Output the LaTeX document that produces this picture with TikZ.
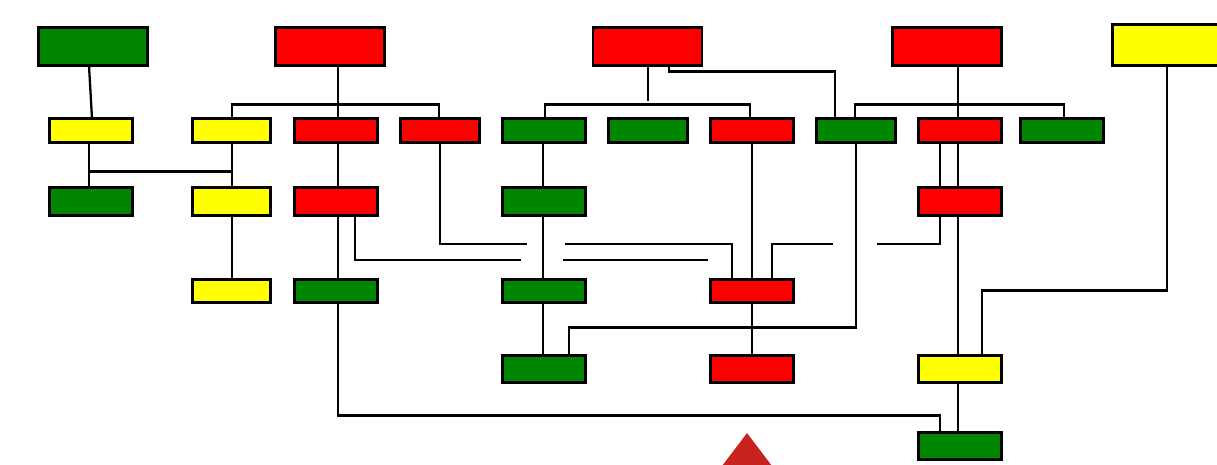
\documentclass[tikz,border=0pt]{standalone}
\usetikzlibrary{calc}
\definecolor{gG}{RGB}{0,134,0}
\definecolor{rR}{RGB}{255,0,0}
\definecolor{yY}{RGB}{255,255,0}
\definecolor{triR}{RGB}{200,34,30}
\tikzset{
  box/.style={draw=black, line width=2.6pt, inner sep=0pt, outer sep=0pt},
  bigbox/.style={box, minimum width=109pt, minimum height=38pt},
  g/.style={fill=gG}, r/.style={fill=rR}, yl/.style={fill=yY},
  wire/.style={draw=black, line width=2.3pt},
}
\begin{document}
\begin{tikzpicture}[x=1pt,y=-1pt]
\useasboundingbox[fill=white] (0,0) rectangle (1217,465);
% top row
\node[bigbox,g] (T1) at (93,46.5) {};
\node[bigbox,r] (T2) at (330,46.5) {};
\node[bigbox,r] (T3) at (647.5,46.5) {};
\node[bigbox,r] (T4) at (947,46.5) {};
\node[bigbox,yl,minimum height=41pt] (T5) at (1167,45) {};
% row 2
\node[box,yl,minimum width=83pt,minimum height=24pt] (R2a) at (91,130.5) {};
\node[box,yl,minimum width=78pt,minimum height=24pt] (R2b) at (231.5,130.5) {};
\node[box,r,minimum width=83pt,minimum height=24pt] (R2c) at (336,130.5) {};
\node[box,r,minimum width=79pt,minimum height=24pt] (R2d) at (440,130.5) {};
\node[box,g,minimum width=83pt,minimum height=24pt] (R2e) at (544,130.5) {};
\node[box,g,minimum width=79pt,minimum height=24pt] (R2f) at (648,130.5) {};
\node[box,r,minimum width=83pt,minimum height=24pt] (R2g) at (752,130.5) {};
\node[box,g,minimum width=79pt,minimum height=24pt] (R2h) at (856,130.5) {};
\node[box,r,minimum width=83pt,minimum height=24pt] (R2i) at (960,130.5) {};
\node[box,g,minimum width=83pt,minimum height=24pt] (R2j) at (1062,130.5) {};
% row 3
\node[box,g,minimum width=83pt,minimum height=28pt] (R3a) at (91,201.5) {};
\node[box,yl,minimum width=78pt,minimum height=28pt] (R3b) at (231.5,201.5) {};
\node[box,r,minimum width=83pt,minimum height=28pt] (R3c) at (336,201.5) {};
\node[box,g,minimum width=83pt,minimum height=28pt] (R3e) at (544,201.5) {};
\node[box,r,minimum width=83pt,minimum height=28pt] (R3i) at (960,201.5) {};
% row 4
\node[box,yl,minimum width=78pt,minimum height=23pt] (R4b) at (231.5,291) {};
\node[box,g,minimum width=83pt,minimum height=23pt] (R4c) at (336,291) {};
\node[box,g,minimum width=83pt,minimum height=23pt] (R4e) at (544,291) {};
\node[box,r,minimum width=83pt,minimum height=23pt] (R4g) at (752,291) {};
% row 5
\node[box,g,minimum width=83pt,minimum height=27pt] (R5e) at (544,369) {};
\node[box,r,minimum width=83pt,minimum height=27pt] (R5g) at (752,369) {};
\node[box,yl,minimum width=83pt,minimum height=27pt] (R5i) at (960,369) {};
% row 6
\node[box,g,minimum width=83pt,minimum height=27pt] (R6i) at (960,446) {};
% gap end coordinates
\coordinate (g1a) at (521,260);
\coordinate (g1b) at (563,260);
\coordinate (g1c) at (708,260);
\coordinate (g2a) at (527,244);
\coordinate (g2b) at (565,244);
\coordinate (g3a) at (833,244);
\coordinate (g3b) at (877,244);
% connectors
\draw[wire] ([xshift=-4pt]T1.south) -- ([xshift=1pt]R2a.north);
\draw[wire] ([xshift=8pt]T2.south) -- ([xshift=2pt]R2c.north);
\draw[wire] ([xshift=0.5pt]R2b.north) -- ++(0,-14) -| ([xshift=-1pt]R2d.north);
\draw[wire] ([xshift=-2pt]R2a.south) -- ([xshift=-2pt]R3a.north);
\draw[wire] ([xshift=0.5pt]R2b.south) -- ([xshift=0.5pt]R3b.north);
\draw[wire] ([xshift=-2pt]R2a.south) ++(0,29) -| ([xshift=0.5pt]R2b.south);
\draw[wire] ([xshift=2pt]R2c.south) -- ([xshift=2pt]R3c.north);
\draw[wire] ([xshift=0.5pt]R3b.south) -- ([xshift=0.5pt]R4b.north);
\draw[wire] ([xshift=2pt]R3c.south) -- ([xshift=2pt]R4c.north);
\draw[wire] ([xshift=19pt]R3c.south) |- (g1a);
\draw[wire] (g1b) -- (g1c);
\draw[wire] (R2d.south) |- (g2a);
\draw[wire] (g2b) -| ([xshift=-20pt]R4g.north);
\draw[wire] ([xshift=-1pt]R2e.south) -- ([xshift=-1pt]R3e.north);
\draw[wire] ([xshift=-1pt]R3e.south) -- ([xshift=-1pt]R4e.north);
\draw[wire] ([xshift=-1pt]R4e.south) -- ([xshift=-1pt]R5e.north);
\draw[wire] ([xshift=0.5pt]T3.south) -- ++(0,36);
\draw[wire] ([xshift=1pt]R2e.north) -- ++(0,-14) -| ([xshift=-2pt]R2g.north);
\draw[wire] ([xshift=21.5pt]T3.south) -- ++(0,6) -| ([xshift=-21pt]R2h.north);
\draw[wire] (R2g.south) -- (R4g.north);
\draw[wire] ([xshift=11pt]T4.south) -- ([xshift=-2pt]R2i.north);
\draw[wire] ([xshift=-1pt]R2h.north) -- ++(0,-14) -| ([xshift=2pt]R2j.north);
\draw[wire] (R2h.south) -- ++(0,185) -| ([xshift=25pt]R5e.north);
\draw[wire] ([xshift=-20pt]R2i.south) -- ([xshift=-20pt]R3i.north);
\draw[wire] ([xshift=-2pt]R2i.south) -- ([xshift=-2pt]R3i.north);
\draw[wire] ([xshift=-20pt]R3i.south) |- (g3b);
\draw[wire] (g3a) -| ([xshift=20pt]R4g.north);
\draw[wire] ([xshift=-2pt]R3i.south) -- ([xshift=-2pt]R5i.north);
\draw[wire] (T5.south) -- ++(0,225) -| ([xshift=22pt]R5i.north);
\draw[wire] ([xshift=-2pt]R5i.south) -- ([xshift=-2pt]R6i.north);
\draw[wire] ([xshift=2pt]R4c.south) -- ++(0,113) -| ([xshift=-20pt]R6i.north);
\draw[wire] (R4g.south) -- (R5g.north);
% red triangle at bottom (cut off)
\fill[triR] (747,433) -- (719,470) -- (775,470) -- cycle;
\end{tikzpicture}
\end{document}
